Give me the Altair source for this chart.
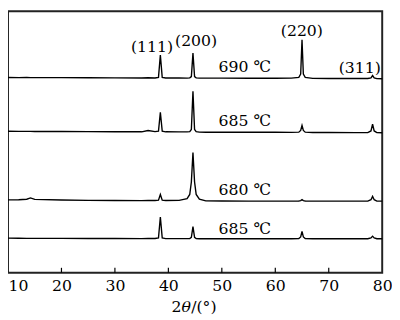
import altair as alt
import pandas as pd

# 2theta grid (degrees)
X = [10, 12, 13.5, 14.2, 15, 20, 25, 30, 35, 36.2, 37.5, 38.15, 38.5, 38.85, 39.5,
     42, 43.5, 44.0, 44.3, 44.6, 44.9, 45.2, 45.8, 47, 50, 55, 60, 63, 64.4, 64.75,
     65.0, 65.25, 65.6, 67, 70, 75, 77.3, 77.9, 78.2, 78.5, 79, 80]

# intensities (a.u., stacked with offsets)
T690 = [204.5, 204.4, 204.5, 204.4, 204.3, 204.3, 204.2, 204.1, 204.0, 204.2, 204.0, 204.6, 228, 204.6, 204.0,
        204.0, 203.9, 204.1, 205.5, 230, 205.5, 204.1, 203.9, 203.8, 203.8, 203.7, 203.7, 203.8, 204.6, 208,
        244, 208, 204.6, 203.6, 203.5, 203.4, 203.4, 204.0, 206.5, 204.0, 203.3, 203.2]
T685a = [148.2, 148.0, 148.1, 148.0, 147.9, 147.9, 147.8, 147.7, 147.6, 149.0, 147.8, 148.3, 168, 148.3, 147.6,
         147.5, 147.5, 147.8, 150, 190, 150, 147.8, 147.3, 147.2, 147.2, 147.1, 147.1, 147.0, 147.2, 149,
         154.3, 149, 147.2, 146.9, 146.9, 146.8, 146.8, 148.5, 155.7, 148.5, 146.7, 146.6]
T680 = [76.3, 76.4, 77.0, 78.3, 76.8, 76.2, 75.8, 75.6, 75.5, 75.6, 75.6, 76.0, 82, 76.0, 75.6,
        75.8, 77.5, 82, 95, 126, 95, 82, 77, 75.3, 75.1, 75.0, 75.0, 75.0, 75.1, 75.5,
        76.5, 75.5, 75.1, 75.0, 75.0, 75.0, 75.0, 76.5, 80, 76.5, 75.0, 75.0]
T685b = [36.2, 36.1, 36.0, 36.0, 36.0, 35.9, 35.8, 35.8, 35.7, 35.8, 35.8, 36.5, 58.3, 36.5, 35.7,
         35.7, 35.7, 35.8, 37, 48.3, 37, 35.8, 35.6, 35.6, 35.6, 35.6, 35.6, 35.6, 35.8, 37.5,
         43.3, 37.5, 35.8, 35.6, 35.6, 35.6, 35.6, 36.5, 38.3, 36.5, 35.6, 35.6]

SERIES = ["690a", "685a", "680", "685b"]
TRACES = [T690, T685a, T680, T685b]

TEMP_LABELS = ["690 ℃", "685 ℃", "680 ℃", "685 ℃"]
TEMP_X = [49.4, 49.4, 49.4, 49.4]
TEMP_Y = [215, 158.5, 86.5, 46]

PEAK_LABELS = ["(111)", "(200)", "(220)", "(311)"]
PEAK_X = [36.94, 45.18, 64.97, 75.79]
PEAK_Y = [236, 243, 253, 214]

TICKS = [10, 20, 30, 40, 50, 60, 70, 80]
INNER_TICKS = [20, 30, 40, 50, 60, 70]

rows = []
for name, ys in zip(SERIES, TRACES):
    for xv, yv in zip(X, ys):
        rows.append({"x": xv, "y": yv, "series": name})
df = pd.DataFrame(rows)

W, H = 382, 267
FONT = "DejaVu Serif"
FS = 16

xs = alt.Scale(domain=[10, 80], nice=False, zero=False)
ys_ = alt.Scale(domain=[0, 274], nice=False, zero=False)

lines = alt.Chart(df).mark_line(color="black", strokeWidth=1.4).encode(
    x=alt.X("x:Q", scale=xs,
            axis=alt.Axis(values=TICKS, ticks=False, domain=False, grid=False,
                          labelFont=FONT, labelFontSize=FS, labelColor="black",
                          labelPadding=5, labelFlush=False, title=None,
                          labelAlign={"expr": "datum.value == 10 ? 'left' : 'center'"})),
    y=alt.Y("y:Q", scale=ys_, axis=None),
    detail="series:N",
)

ticks = alt.Chart(pd.DataFrame({"t": INNER_TICKS})).mark_rule(color="black", strokeWidth=1.2).encode(
    x=alt.X("t:Q", scale=xs),
    y=alt.value(H),
    y2=alt.value(H - 5),
)

temp = alt.Chart(pd.DataFrame({"l": TEMP_LABELS, "x": TEMP_X, "y": TEMP_Y})).mark_text(
    font=FONT, fontSize=FS, color="black", align="left", baseline="middle"
).encode(x=alt.X("x:Q", scale=xs), y=alt.Y("y:Q", scale=ys_), text="l:N")

peaks = alt.Chart(pd.DataFrame({"l": PEAK_LABELS, "x": PEAK_X, "y": PEAK_Y})).mark_text(
    font=FONT, fontSize=FS, color="black", align="center", baseline="middle"
).encode(x=alt.X("x:Q", scale=xs), y=alt.Y("y:Q", scale=ys_), text="l:N")

title_y = 302
t1 = alt.Chart(pd.DataFrame({"l": ["2"]})).mark_text(
    font=FONT, fontSize=FS, color="black", align="right", baseline="middle"
).encode(x=alt.value(177), y=alt.value(title_y), text="l:N")
t2 = alt.Chart(pd.DataFrame({"l": ["θ"]})).mark_text(
    font=FONT, fontSize=FS, color="black", align="left", baseline="middle", fontStyle="italic"
).encode(x=alt.value(177), y=alt.value(title_y), text="l:N")
t3 = alt.Chart(pd.DataFrame({"l": ["/(°)"]})).mark_text(
    font=FONT, fontSize=FS, color="black", align="left", baseline="middle"
).encode(x=alt.value(187), y=alt.value(title_y), text="l:N")

chart = alt.layer(lines, ticks, temp, peaks, t1, t2, t3).properties(
    width=W, height=H,
    autosize=alt.AutoSizeParams(type="none"),
    padding={"left": 0, "top": 0, "right": 10, "bottom": 42},
    background="white",
).configure_view(stroke="#222", strokeWidth=2)

chart.save("out.html", embed_options={"renderer": "svg", "actions": False})
